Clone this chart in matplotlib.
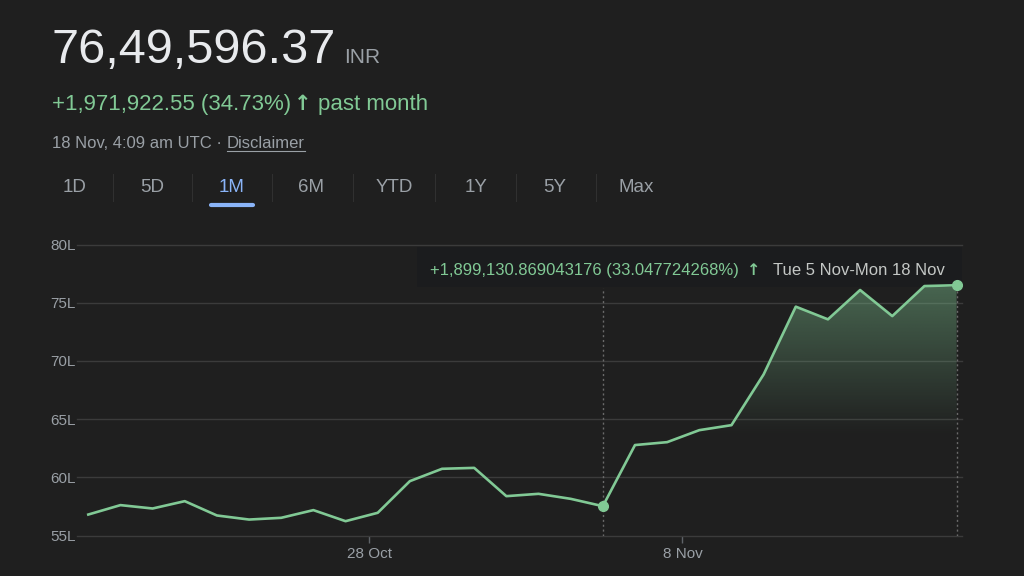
import numpy as np
import pandas as pd
import matplotlib
matplotlib.use("Agg")
import matplotlib.pyplot as plt
import matplotlib.dates as mdates
from matplotlib.colors import to_rgb
from matplotlib.patches import Rectangle
from matplotlib.lines import Line2D

# price in lakh INR, one month of points (18 Oct - 18 Nov 2024)
dates = pd.date_range("2024-10-18 03:25", "2024-11-17 15:00", periods=28)
values = [56.80, 57.61, 57.32, 57.95, 56.72, 56.37, 56.52, 57.18, 56.23, 56.95,
          59.67, 60.73, 60.81, 58.38, 58.58, 58.15, 57.52, 62.77, 63.02, 64.05,
          64.48, 68.84, 74.66, 73.57, 76.09, 73.85, 76.43, 76.50]
sel_start = 16          # Tue 5 Nov, start of the highlighted range

y_ticks = [55, 60, 65, 70, 75, 80]
x_tick_dates = ["2024-10-28", "2024-11-08"]
x_tick_labels = ["28 Oct", "8 Nov"]
tabs = ["1D", "5D", "1M", "6M", "YTD", "1Y", "5Y", "Max"]
active_tab = "1M"

price_text = "76,49,596.37"
change_text = "+1,971,922.55 (34.73%)"
range_change_text = "+1,899,130.869043176 (33.047724268%)"
range_label = "Tue 5 Nov-Mon 18 Nov"

BG = "#1f1f1f"
GREEN = "#81c995"
GRAY = "#9aa0a6"
WHITE = "#e8eaed"
BLUE = "#8ab4f8"
GRID = "#3b3b3b"
FONT = ["Liberation Sans", "DejaVu Sans"]
plt.rcParams["font.family"] = FONT

W, H = 1024, 576
fig = plt.figure(figsize=(W / 100, H / 100), dpi=100, facecolor=BG)
renderer = fig.canvas.get_renderer()


def fx(px):
    return px / W


def fy(py):
    return 1 - py / H


def put(x, y, s, **kw):
    t = fig.text(fx(x), fy(y), s, **kw)
    return t.get_window_extent(renderer).x1


# header
x = put(52, 63, price_text, size=35, color=WHITE, va="baseline")
put(x + 8, 63, "INR", size=15, color=GRAY, va="baseline")

x = put(52, 110, change_text, size=16, color=GREEN, va="baseline")
x = put(x + 3, 110, "\u2191", size=15, color=GREEN, va="baseline", weight="bold",
        family="DejaVu Sans")
put(x + 6, 110, "past month", size=16, color=GREEN, va="baseline")

x = put(52, 147.5, "18 Nov, 4:09 am UTC \u00b7 ", size=12, color=GRAY, va="baseline")
x_end = put(x, 147.5, "Disclaimer", size=12, color=GRAY, va="baseline")
fig.add_artist(Line2D([fx(x), fx(x_end)], [fy(150.5), fy(150.5)], color=GRAY, lw=0.8))

# range tabs
tab_x = [74.5, 152, 232, 311, 394, 476, 555, 636]
for i, (lab, cx) in enumerate(zip(tabs, tab_x)):
    fig.text(fx(cx), fy(187), lab, size=13.5, ha="center", va="center",
             color=BLUE if lab == active_tab else GRAY)
    if i < len(tabs) - 1:
        sx = (cx + tab_x[i + 1]) / 2
        fig.add_artist(Line2D([fx(sx), fx(sx)], [fy(174), fy(201)], color="#303030", lw=0.8))
ax_i = tabs.index(active_tab)
fig.add_artist(Line2D([fx(tab_x[ax_i] - 21), fx(tab_x[ax_i] + 21)], [fy(205.5), fy(205.5)],
                      color=BLUE, lw=3, solid_capstyle="round"))

# chart
ax = fig.add_axes([fx(77), fy(535.5), (962 - 77) / W, (535.5 - 244.5) / H])
ax.set_facecolor(BG)
xs = mdates.date2num(dates)

ax.plot(xs, values, color=GREEN, lw=1.9, zorder=4, solid_joinstyle="round")
ax.plot([xs[sel_start], xs[-1]], [values[sel_start], values[-1]], "o", color=GREEN,
        ms=7, zorder=5, clip_on=False)

# gradient under the selected range
ys = np.linspace(55, 77, 256)
alpha = np.clip((ys - 63.5) / (76.5 - 63.5), 0, 1) * 0.42
img = np.zeros((256, 2, 4))
img[..., :3] = to_rgb(GREEN)
img[..., 3] = alpha[:, None]
im = ax.imshow(img, extent=[xs[sel_start], xs[-1], 55, 77], origin="lower",
               aspect="auto", zorder=2, interpolation="bilinear")
poly = ax.fill_between(xs[sel_start:], values[sel_start:], 55, color="none", lw=0)
im.set_clip_path(poly.get_paths()[0], ax.transData)

top_dotted = 55 + (535.5 - 288) / (291 / 25)
for xi in (xs[sel_start], xs[-1]):
    ax.vlines(xi, 55, top_dotted, color="#6a6a6a", lw=1, linestyles=(0, (1.5, 2)), zorder=3)

ax.set_ylim(55, 80)
ax.set_xlim(xs[0] - 0.396, xs[-1] + 0.19)
ax.set_yticks(y_ticks)
ax.set_yticklabels([f"{v}L" for v in y_ticks])
ax.set_xticks(mdates.date2num(pd.to_datetime(x_tick_dates)))
ax.set_xticklabels(x_tick_labels)
ax.tick_params(axis="y", length=0, pad=1, labelsize=11, labelcolor=GRAY)
ax.tick_params(axis="x", length=5, width=1, color="#5f6368", pad=3, labelsize=11, labelcolor=GRAY)
ax.grid(axis="y", color=GRID, lw=1)
for gl in ax.get_ygridlines():
    gl.set_clip_on(False)
ax.set_axisbelow(True)
for s in ax.spines.values():
    s.set_visible(False)

# tooltip for the selected range
ax.add_patch(Rectangle((fx(417), fy(287)), (962 - 417) / W, (287 - 247) / H,
                       transform=fig.transFigure, facecolor="#1b1c1e", edgecolor="none",
                       zorder=3.5, clip_on=False))
x = put(430.5, 275, range_change_text, size=12, color=GREEN, va="baseline", zorder=6)
x = put(x + 8, 275, "\u2191", size=11.5, color=GREEN, va="baseline", weight="bold",
        family="DejaVu Sans", zorder=6)
put(x + 12, 275, range_label, size=12, color="#c4c7c5", va="baseline", zorder=6)

fig.savefig("out.png", dpi=100, facecolor=BG)
